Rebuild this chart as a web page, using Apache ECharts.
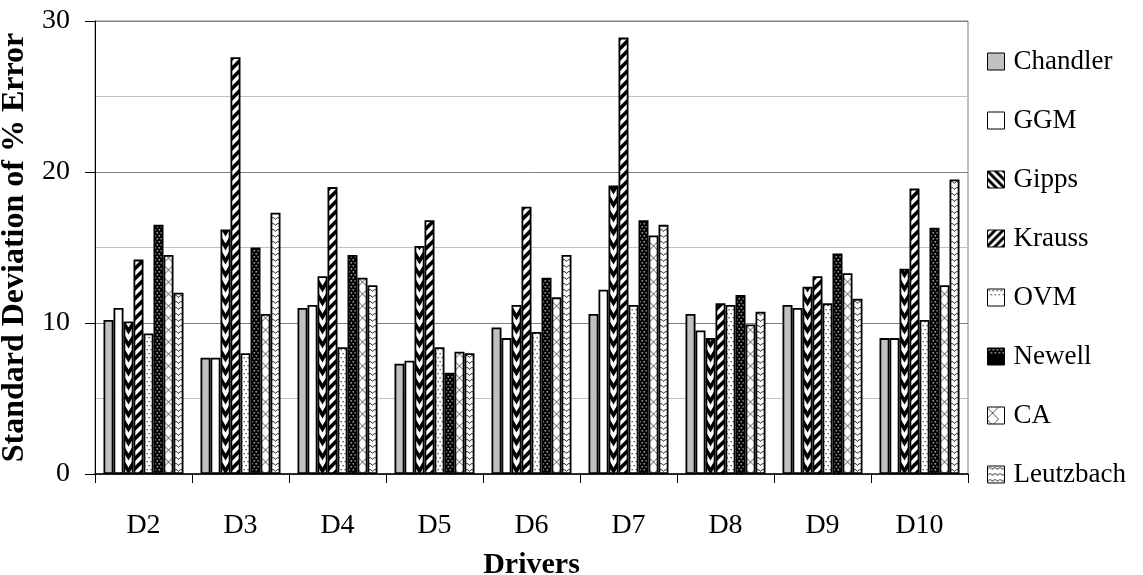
<!DOCTYPE html>
<html>
<head>
<meta charset="utf-8">
<script src="https://cdn.jsdelivr.net/npm/echarts@6/dist/echarts.min.js"></script>
<style>
html,body{margin:0;padding:0;background:#fff;}
#chart{width:1143px;height:575px;}
</style>
</head>
<body>
<div id="chart"></div>
<script>
const categories = ['D2','D3','D4','D5','D6','D7','D8','D9','D10'];
const seriesNames = ['Chandler','GGM','Gipps','Krauss','OVM','Newell','CA','Leutzbach'];
const chandler  = [10.2, 7.7, 11.0, 7.3, 9.7, 10.6, 10.6, 11.2, 9.0];
const ggm       = [11.0, 7.7, 11.2, 7.5, 9.0, 12.2, 9.5, 11.0, 9.0];
const gipps     = [10.1, 16.2, 13.1, 15.1, 11.2, 19.1, 9.0, 12.4, 13.6];
const krauss    = [14.2, 27.6, 19.0, 16.8, 17.7, 28.9, 11.3, 13.1, 18.9];
const ovm       = [9.3, 8.0, 8.4, 8.4, 9.4, 11.2, 11.2, 11.3, 10.2];
const newell    = [16.5, 15.0, 14.5, 6.7, 13.0, 16.8, 11.85, 14.6, 16.3];
const ca        = [14.5, 10.6, 13.0, 8.1, 11.7, 15.8, 9.9, 13.3, 12.5];
const leutzbach = [12.0, 17.3, 12.5, 8.0, 14.5, 16.5, 10.75, 11.6, 19.5];
const yTicks = [0, 10, 20, 30];

const seriesData = [chandler, ggm, gipps, krauss, ovm, newell, ca, leutzbach];

// layout
const GRID_LEFT = 95, GRID_TOP = 21, GRID_W = 873, GRID_H = 453;
const CAT_W = GRID_W / categories.length; // 97
const BAR_W = 10;

function tile(w, h, bg, draw) {
  const c = document.createElement('canvas');
  c.width = w; c.height = h;
  const g = c.getContext('2d');
  g.fillStyle = bg; g.fillRect(0, 0, w, h);
  draw(g, w, h);
  return c;
}

const painters = {
  Gipps: { bg: '#fff', h: 14, draw(g, x0, wd, h) {
    g.strokeStyle = '#000'; g.lineWidth = 3.6; g.lineJoin = 'miter';
    for (let y = -28; y <= h + 14; y += 14) {
      g.beginPath(); g.moveTo(x0 - 1, y - 1); g.lineTo(x0 + wd / 2, y + 9); g.lineTo(x0 + wd + 1, y - 1); g.stroke();
    }
  }},
  Krauss: { bg: '#fff', h: 10, draw(g, x0, wd, h) {
    g.strokeStyle = '#000'; g.lineWidth = 3.6;
    for (let y = -30; y <= h + 30; y += 10) {
      g.beginPath(); g.moveTo(x0 - 4, y + 14); g.lineTo(x0 + 14, y - 4); g.stroke();
    }
  }},
  OVM: { bg: '#fff', h: 8, draw(g, x0, wd, h) {
    g.fillStyle = '#444';
    for (let x = x0 + 1; x < x0 + wd + 4; x += 4) { g.fillRect(x, 1, 1.3, 1.3); g.fillRect(x + 2, 5, 1.3, 1.3); }
  }},
  Newell: { bg: '#000', h: 6, draw(g, x0, wd, h) {
    g.fillStyle = '#9a9a9a';
    for (let x = x0 + 1; x < x0 + wd + 4; x += 4) { g.fillRect(x, 1, 1.6, 1.6); g.fillRect(x + 2, 4, 1.6, 1.6); }
  }},
  CA: { bg: '#fff', h: 12, draw(g, x0, wd, h) {
    g.strokeStyle = '#555'; g.lineWidth = 1;
    for (let y = -36; y <= h + 36; y += 12) {
      g.beginPath(); g.moveTo(x0 - 1, y + 12); g.lineTo(x0 + 11, y); g.stroke();
      g.beginPath(); g.moveTo(x0 - 1, y); g.lineTo(x0 + 11, y + 12); g.stroke();
    }
  }},
  Leutzbach: { bg: '#fff', h: 6, draw(g, x0, wd, h) {
    g.strokeStyle = '#333'; g.lineWidth = 1;
    for (let y = -6; y <= h + 6; y += 6) {
      for (let x = x0 - 5; x < x0 + wd + 5; x += 5) {
        g.beginPath(); g.moveTo(x, y + 3.5); g.quadraticCurveTo(x + 2.5, y - 0.5, x + 5, y + 3.5); g.stroke();
      }
    }
  }}
};

function barFill(name, i) {
  if (name === 'Chandler') return '#c0c0c0';
  if (name === 'GGM') return '#ffffff';
  const p = painters[name];
  const x0 = ((GRID_LEFT + (CAT_W - BAR_W * seriesNames.length) / 2 + BAR_W * i) % CAT_W);
  const c = tile(CAT_W, p.h, p.bg, (g, w, h) => p.draw(g, x0, BAR_W, h));
  return { image: c, repeat: 'repeat' };
}
function legendFill(name) {
  if (name === 'Chandler') return '#c0c0c0';
  if (name === 'GGM') return '#ffffff';
  const p = painters[name];
  if (name === 'Gipps') {
    return { image: tile(8, 8, '#fff', g => { g.strokeStyle = '#000'; g.lineWidth = 3;
      for (let k = -16; k <= 16; k += 8) { g.beginPath(); g.moveTo(k - 2, -2); g.lineTo(k + 10, 10); g.stroke(); } }), repeat: 'repeat' };
  }
  if (name === 'Krauss') {
    return { image: tile(8, 8, '#fff', g => { g.strokeStyle = '#000'; g.lineWidth = 3;
      for (let k = -16; k <= 16; k += 8) { g.beginPath(); g.moveTo(k - 2, 10); g.lineTo(k + 10, -2); g.stroke(); } }), repeat: 'repeat' };
  }
  const c = tile(20, p.h * 4, p.bg, (g, w, h) => p.draw(g, 0, 20, h));
  return { image: c, repeat: 'repeat' };
}

const series = seriesNames.map((name, i) => ({
  name: name,
  type: 'bar',
  data: seriesData[i],
  barWidth: BAR_W,
  barGap: '0%',
  itemStyle: { color: barFill(name, i), borderColor: '#000', borderWidth: 1.8 },
  emphasis: { disabled: true },
  animation: false
}));

const chart = echarts.init(document.getElementById('chart'), null, { renderer: 'canvas' });
chart.setOption({
  backgroundColor: '#fff',
  animation: false,
  grid: { left: GRID_LEFT, top: GRID_TOP, width: GRID_W, height: GRID_H, containLabel: false, outerBoundsMode: 'none',
          show: true, borderColor: '#808080', borderWidth: 1, backgroundColor: 'transparent' },
  legend: {
    orient: 'vertical', left: 982, top: 43,
    itemWidth: 17, itemHeight: 17, itemGap: 32,
    icon: 'rect',
    textStyle: { fontFamily: 'Liberation Serif', fontSize: 27, color: '#000', lineHeight: 27, padding: [0, 0, 0, 4] },
    data: seriesNames.map(n => ({ name: n, itemStyle: { color: legendFill(n), borderColor: '#000', borderWidth: 1 } })),
    selectedMode: false
  },
  xAxis: {
    type: 'category', data: categories,
    name: 'Drivers', nameLocation: 'middle', nameGap: 76,
    nameTextStyle: { fontFamily: 'Liberation Serif', fontSize: 30, fontWeight: 'bold', color: '#000' },
    axisLine: { lineStyle: { color: '#000', width: 1.5 } },
    axisTick: { show: true, length: 9, lineStyle: { color: '#000' } },
    axisLabel: { fontFamily: 'Liberation Serif', fontSize: 28, color: '#000', margin: 38 }
  },
  yAxis: {
    type: 'value', min: yTicks[0], max: yTicks[yTicks.length - 1], interval: 10,
    name: 'Standard Deviation of % Error', nameLocation: 'middle', nameGap: 56,
    nameTextStyle: { fontFamily: 'Liberation Serif', fontSize: 32, fontWeight: 'bold', color: '#000' },
    axisLine: { show: true, lineStyle: { color: '#000', width: 1 } },
    axisTick: { show: true, length: 10, lineStyle: { color: '#000' } },
    axisLabel: { fontFamily: 'Liberation Serif', fontSize: 28, color: '#000', margin: 25 },
    splitLine: { show: true, lineStyle: { color: '#808080', width: 1 } },
    minorTick: { show: false, splitNumber: 2 },
    minorSplitLine: { show: true, lineStyle: { color: '#c0c0c0', width: 1 } }
  },
  series: series
});
</script>
</body>
</html>
